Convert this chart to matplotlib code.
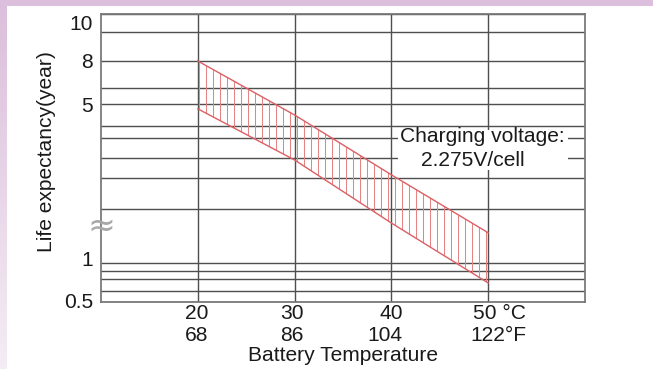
import numpy as np
import matplotlib
matplotlib.use("Agg")
import matplotlib.pyplot as plt
from matplotlib.patches import Rectangle
from matplotlib.transforms import ScaledTranslation

# battery temperature (deg C) and life expectancy band (years)
temps = [20, 30, 40, 50]
life_upper = [8, 4.75, 3.08, 1.56]
life_lower = [4.89, 3.45, 1.74, 0.667]

# the chart's y axis is a hand drawn scale: grid values and their height (px above the bottom)
grid_vals = [0.5, 0.6, 0.7, 0.8, 1, 2, 3, 3.5, 4, 4.5, 5, 6, 8, 9, 10]
grid_pos = [0, 11, 23, 31, 39, 93, 124, 144, 164, 176, 198, 214, 241, 270, 288]
y_labels = {0.5: "0.5", 1: "1", 5: "5", 8: "8", 10: "10"}

x_ticks = [20, 30, 40, 50]
x_labels = ["20\n68", "30\n86", "40\n104", "50 °C\n122°F"]

DPI = 126  # 18 hatch lines per inch -> 7 px spacing
plt.rcParams['font.family'] = ['Liberation Sans', 'DejaVu Sans']
plt.rcParams['font.size'] = 12.0
plt.rcParams['hatch.linewidth'] = 0.6
plt.rcParams['hatch.color'] = '#e48585'

fig = plt.figure(figsize=(653 / DPI, 369 / DPI), dpi=DPI, facecolor='white')

# lavender frame on top and left
fig.patches.append(Rectangle((0, 1 - 6 / 369), 1, 6 / 369, transform=fig.transFigure,
                             facecolor='#dcbfdc', edgecolor='none', zorder=0))
strip = fig.add_axes([0, 0, 7 / 653, 1 - 6 / 369])
strip.imshow(np.linspace(0, 1, 100).reshape(-1, 1), aspect='auto',
             cmap=matplotlib.colors.LinearSegmentedColormap.from_list('lav', ['#dcbfdc', '#f4ecf4']))
strip.axis('off')

ax = fig.add_axes([101 / 653, (369 - 302) / 369, 484 / 653, 288 / 369])


def fwd(v):
    return np.interp(v, grid_vals, grid_pos)


def inv(p):
    return np.interp(p, grid_pos, grid_vals)


ax.set_yscale('function', functions=(fwd, inv))
ax.set_xlim(10, 60)
ax.set_ylim(0.5, 10)

ax.fill_between(temps, life_lower, life_upper, facecolor='none', edgecolor='#e48585',
                hatch='|||', linewidth=0, zorder=1.5)
ax.plot(temps, life_upper, color='#dc6064', lw=0.8, zorder=1.6)
ax.plot(temps, life_lower, color='#dc6064', lw=0.8, zorder=1.6)

ax.set_axisbelow(True)
ax.set_xticks(x_ticks, x_labels, multialignment='right', color='#1a1a1a')
ax.set_yticks(grid_vals, [y_labels.get(v, "") for v in grid_vals], color='#1a1a1a')
ax.tick_params(length=0)
ax.tick_params(axis='x', pad=1)
ax.tick_params(axis='y', pad=4.5)
ax.grid(True, color='#4f4f4f', lw=0.8)
for s in ax.spines.values():
    s.set_color('#777777')
    s.set_linewidth(1.0)

# small nudges of the hand-placed labels (px)
x_shift = [-1, -3, -6, 10]
for lab, dx in zip(ax.get_xticklabels(), x_shift):
    lab.set_transform(lab.get_transform() + ScaledTranslation(dx / DPI, 0, fig.dpi_scale_trans))
y_shift = {"10": -8, "1": 5, "0.5": 2}
for lab in ax.get_yticklabels():
    dy = y_shift.get(lab.get_text(), 0)
    if dy:
        lab.set_transform(lab.get_transform() + ScaledTranslation(0, dy / DPI, fig.dpi_scale_trans))

ax.set_xlabel('Battery Temperature', color='#1a1a1a')
ax.xaxis.set_label_coords(0.5, -0.153)
ax.set_ylabel('Life expectancy(year)', color='#1a1a1a')
ax.yaxis.set_label_coords(-0.094, 0.521)

# white box behind the note
ax.add_patch(Rectangle((0.614, 0.458), 0.351, 0.138, transform=ax.transAxes,
                       facecolor='white', edgecolor='none', zorder=2))
ax.text(40.9, 0.575, 'Charging voltage:', transform=ax.get_xaxis_transform(),
        ha='left', va='center', color='#1a1a1a', zorder=3)
ax.text(43.1, 0.493, '2.275V/cell', transform=ax.get_xaxis_transform(),
        ha='left', va='center', color='#1a1a1a', zorder=3)

# axis break mark
ax.text(0, 0.265, '≈', transform=ax.transAxes, ha='center', va='center',
        fontsize=19, family='DejaVu Sans', color='#a8a8a8', zorder=5)

fig.savefig('out.png', dpi=DPI, facecolor='white')
